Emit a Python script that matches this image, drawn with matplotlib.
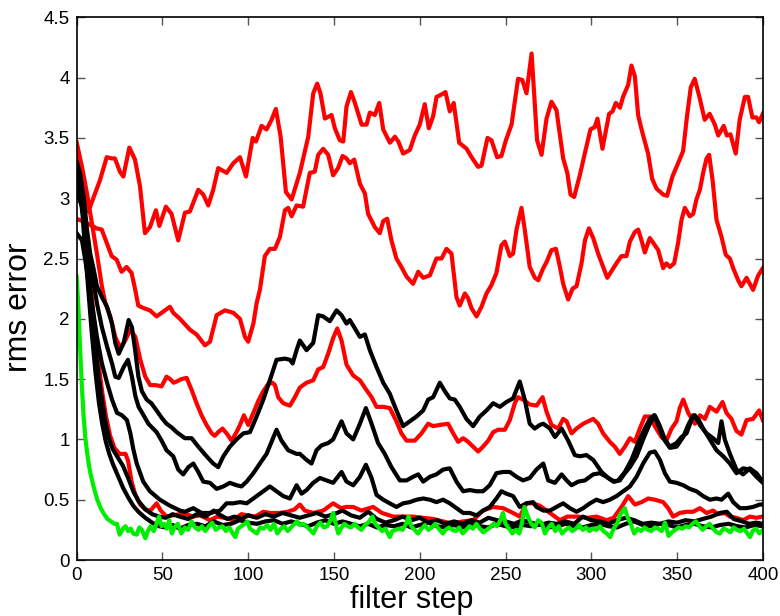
import matplotlib
matplotlib.use("Agg")
import matplotlib.pyplot as plt
import numpy as np

# ---- data (filter step, rms error) ----

red_top = [(0, 3.45), (6.8, 2.89), (13.6, 3.15), (17.5, 3.34), (20.4, 3.33), (22.3, 3.33), (25.2, 3.22),
           (27.2, 3.18), (30.7, 3.42), (34, 3.32), (36.9, 3.10), (39.8, 2.71), (42.7, 2.76), (46.2, 2.90),
           (48.2, 2.77), (52, 2.93), (55.3, 2.87), (59.2, 2.65), (63.1, 2.88), (66, 2.89), (70.9, 3.07),
           (73.8, 3.03), (76.7, 2.94), (79.6, 3.07), (82.5, 3.25), (87.4, 3.21), (91.3, 3.29), (95.2, 3.34),
           (98.7, 3.18), (102.6, 3.50), (104.5, 3.47), (107.8, 3.60), (110.7, 3.57), (113.6, 3.65),
           (116.1, 3.74), (118.9, 3.51), (122, 3.05), (125.3, 2.99), (130.1, 3.21), (135, 3.51),
           (137.9, 3.87), (140.2, 3.95), (142.1, 3.87), (144.7, 3.66), (148.6, 3.69), (150.5, 3.58),
           (153.4, 3.48), (155.4, 3.47), (157.3, 3.76), (159.9, 3.88), (162.2, 3.79), (166.1, 3.61),
           (169, 3.61), (170.9, 3.71), (173.8, 3.69), (176.4, 3.79), (178.7, 3.57), (182.6, 3.46),
           (185.5, 3.51), (187.5, 3.47), (190.3, 3.37), (194.2, 3.40), (197.1, 3.52), (200, 3.61),
           (202.9, 3.78), (205.3, 3.58), (207.8, 3.68), (209.8, 3.84), (212.7, 3.86), (215, 3.88),
           (217.5, 3.72), (219.8, 3.79), (223, 3.46), (227.3, 3.41), (230.2, 3.34), (234, 3.26),
           (236, 3.27), (239.5, 3.50), (241.8, 3.48), (245.1, 3.34), (247.6, 3.35), (250.2, 3.48),
           (253.5, 3.61), (257.3, 3.99), (259.8, 3.98), (262.2, 3.87), (265.2, 4.20), (268.4, 3.48),
           (271, 3.36), (273.9, 3.66), (276.8, 3.80), (279.7, 3.73), (283.6, 3.33), (286, 3.21),
           (287.9, 3.03), (290, 3.01), (293.3, 3.19), (296.2, 3.37), (299.5, 3.57), (302, 3.59),
           (303.6, 3.66), (306.5, 3.41), (310.4, 3.70), (312.4, 3.72), (314.3, 3.79), (316.7, 3.75),
           (318.5, 3.84), (321.5, 3.94), (323.4, 4.10), (325.4, 4.01), (327.3, 3.69), (329.3, 3.57),
           (333.1, 3.37), (335.5, 3.16), (338, 3.08), (341.9, 3.03), (344.2, 3.02), (347.3, 3.18),
           (350.6, 3.29), (353.5, 3.39), (355.8, 3.68), (358, 3.92), (360.3, 3.99), (363.2, 3.83),
           (366.1, 3.65), (369, 3.70), (372, 3.61), (374, 3.52), (377.2, 3.60), (379, 3.52),
           (381.1, 3.53), (384.2, 3.37), (386.5, 3.65), (389.5, 3.84), (391.4, 3.84), (393.9, 3.67),
           (396.2, 3.67), (397.8, 3.63), (400, 3.70)]

red_second = [(0, 2.83), (7.8, 2.78), (11.6, 2.75), (14.6, 2.74), (17.5, 2.63), (20.4, 2.52), (23.3, 2.49),
              (26.2, 2.39), (29.1, 2.43), (32, 2.38), (34, 2.25), (35.9, 2.11), (38.8, 2.09), (42.7, 2.07),
              (46.6, 2.02), (51.5, 2.07), (54.4, 2.10), (56.3, 2.05), (60.2, 2.0), (66, 1.91), (69.9, 1.87),
              (74.8, 1.78), (77.7, 1.81), (81.6, 2.03), (86.4, 2.07), (91.3, 2.05), (95.2, 2.0), (98.1, 1.85),
              (100, 1.81), (103, 1.96), (104.9, 2.13), (106.8, 2.24), (109.7, 2.52), (112.6, 2.58),
              (115.6, 2.58), (118.5, 2.68), (121.4, 2.90), (123.3, 2.92), (125.3, 2.85), (128.2, 2.94),
              (132, 2.93), (135.9, 3.21), (138.8, 3.22), (140.8, 3.36), (143.7, 3.41), (146.6, 3.36),
              (149.5, 3.19), (152.4, 3.25), (155, 3.35), (157.3, 3.33), (159.2, 3.29), (161.8, 3.32),
              (165.1, 3.12), (168, 3.04), (169.9, 2.87), (173.8, 2.76), (176.7, 2.71), (178.7, 2.81),
              (181, 2.83), (183.5, 2.65), (186.4, 2.50), (189.3, 2.43), (192.3, 2.35), (196.1, 2.29),
              (199.1, 2.39), (202, 2.34), (205.9, 2.36), (209.7, 2.50), (212.7, 2.50), (215.6, 2.58),
              (218.5, 2.54), (221.4, 2.18), (223.3, 2.11), (226.3, 2.21), (228.2, 2.17), (230.1, 2.09),
              (233.1, 2.02), (236, 2.10), (238.9, 2.21), (241.8, 2.28), (244.7, 2.38), (247.6, 2.61),
              (249.6, 2.64), (252.5, 2.52), (254.4, 2.54), (256.4, 2.74), (259.3, 2.92), (261.2, 2.74),
              (264.1, 2.43), (267.1, 2.34), (269.1, 2.32), (272, 2.42), (273.9, 2.47), (276.8, 2.57),
              (279.4, 2.58), (281.7, 2.43), (283.6, 2.29), (286.5, 2.16), (289.1, 2.25), (291.4, 2.27),
              (294.3, 2.46), (296.3, 2.65), (298.6, 2.75), (301.1, 2.67), (304, 2.54), (306.9, 2.43),
              (309.3, 2.34), (312.4, 2.41), (315.1, 2.47), (317.6, 2.52), (320.5, 2.52), (322.5, 2.64),
              (325.4, 2.72), (327.3, 2.74), (329.3, 2.65), (331.2, 2.55), (334.1, 2.67), (336.1, 2.63),
              (339, 2.57), (341.9, 2.42), (343.8, 2.46), (345.8, 2.43), (348.3, 2.46), (350.6, 2.63),
              (352.6, 2.82), (354.5, 2.92), (357.4, 2.85), (359.4, 2.87), (361.3, 2.99), (363.3, 3.07),
              (365.2, 3.21), (367.2, 3.33), (368.7, 3.36), (370.7, 3.15), (373, 2.82), (375.9, 2.68),
              (378.4, 2.53), (380.8, 2.50), (382.7, 2.42), (385.6, 2.32), (387.5, 2.27), (390.5, 2.34),
              (392.4, 2.29), (394.3, 2.24), (397.3, 2.36), (400, 2.42)]

red_third = [(0, 3.46), (3.1, 3.26), (6, 3.04), (8.9, 2.79), (11.8, 2.54), (14.7, 2.27), (16.7, 2.13),
             (19.6, 2.02), (22.5, 1.85), (25.4, 1.76), (28.3, 1.82), (31.3, 1.91), (34.2, 1.85),
             (37.1, 1.66), (40, 1.52), (42.9, 1.45), (46, 1.45), (49.5, 1.44), (52.4, 1.52), (54.5, 1.50),
             (56.5, 1.47), (58.3, 1.48), (61, 1.50), (64.1, 1.51), (67, 1.41), (69.9, 1.30), (72.8, 1.20),
             (75.7, 1.12), (78.7, 1.05), (80.5, 1.03), (82.5, 1.06), (85, 1.09), (87.4, 1.05), (90.3, 0.99),
             (93.2, 1.06), (95.2, 1.12), (97.5, 1.20), (100, 1.12), (103, 1.22), (105.9, 1.32),
             (108.8, 1.40), (111.7, 1.46), (114.2, 1.47), (115.6, 1.45), (117.5, 1.35), (120.4, 1.30),
             (124.3, 1.28), (127.2, 1.35), (130.1, 1.43), (134, 1.47), (137.9, 1.49), (140.8, 1.58),
             (143.7, 1.60), (146.6, 1.71), (149.5, 1.84), (151.9, 1.92), (154.4, 1.82), (157.3, 1.62),
             (161.2, 1.53), (165.1, 1.49), (168.9, 1.41), (171.9, 1.35), (174.8, 1.27), (178.7, 1.27),
             (182.5, 1.26), (186.4, 1.15), (189.3, 1.05), (192.3, 0.99), (197.1, 0.99), (201, 1.05),
             (204.9, 1.13), (207.8, 1.11), (211.7, 1.12), (216.5, 1.13), (219.5, 1.05), (222.4, 0.98),
             (225.3, 1.01), (228.2, 0.98), (231.1, 0.94), (234, 0.90), (236.9, 0.94), (239.9, 0.99),
             (242.8, 1.06), (245.7, 1.08), (249.6, 1.08), (252.5, 1.16), (255.4, 1.30), (257.3, 1.35),
             (260.2, 1.33), (264.1, 1.29), (268.1, 1.28), (271.6, 1.35), (273.9, 1.23), (276.8, 1.12),
             (280.7, 1.09), (283.6, 1.17), (285.6, 1.15), (288.5, 1.05), (291.4, 1.09), (295.3, 1.13),
             (301.1, 1.17), (304, 1.13), (306.9, 1.05), (310.8, 0.98), (313.7, 0.94), (316.6, 0.88),
             (319.6, 0.94), (322.5, 1.01), (325.4, 0.98), (328.3, 1.09), (331.2, 1.19), (334.1, 1.19),
             (337, 1.11), (340.9, 1.02), (343.8, 0.99), (346.8, 1.09), (349.7, 1.15), (351.6, 1.26),
             (353.6, 1.33), (356.5, 1.22), (360.4, 1.13), (363.3, 1.20), (366.2, 1.17), (369.1, 1.27),
             (373, 1.23), (376.5, 1.31), (378.8, 1.22), (381.7, 1.17), (384.6, 1.07), (387.5, 1.04),
             (390.5, 1.16), (394.3, 1.17), (397.8, 1.24), (400, 1.16)]

red_low = [(0, 3.13), (2, 3.15), (3.5, 3.05), (5, 2.8), (7, 2.5), (9, 2.15), (11, 1.85), (13, 1.6), (15, 1.38),
           (17, 1.2), (19.5, 1.03), (22, 0.93), (25, 0.88), (28.5, 0.88), (30, 0.82), (32, 0.65), (34, 0.55),
           (37, 0.46), (40, 0.42), (43, 0.41), (46.6, 0.47), (49, 0.41), (52.4, 0.36), (56, 0.37), (60, 0.38),
           (64, 0.38), (68, 0.36), (72, 0.37), (77.7, 0.33), (82, 0.36), (86, 0.35), (91.3, 0.33), (96, 0.38),
           (100, 0.37), (104, 0.36), (108.8, 0.40), (113, 0.39), (118, 0.39), (123, 0.40), (127, 0.42),
           (130.1, 0.46), (133, 0.41), (138, 0.39), (143.7, 0.41), (149.5, 0.47), (154, 0.43), (157, 0.44),
           (161.2, 0.44), (166, 0.41), (172.8, 0.44), (178, 0.39), (184.5, 0.36), (190, 0.36), (196, 0.36),
           (202, 0.35), (208, 0.34), (213.6, 0.32), (219.5, 0.30), (225, 0.32), (231.1, 0.33), (236.9, 0.41),
           (242.8, 0.44), (248.6, 0.43), (254.4, 0.39), (258.3, 0.36), (262.2, 0.47), (266.1, 0.47),
           (270, 0.45), (275.9, 0.39), (281.7, 0.33), (286, 0.36), (292, 0.36), (298, 0.35), (303, 0.36),
           (308.9, 0.33), (313, 0.35), (317.6, 0.44), (321.5, 0.53), (325.4, 0.46), (329.3, 0.48),
           (333.2, 0.51), (337, 0.50), (341.9, 0.48), (344.8, 0.43), (347.7, 0.36), (351.6, 0.39),
           (355.5, 0.40), (359.4, 0.40), (363.3, 0.43), (367.2, 0.39), (371, 0.41), (374, 0.38),
           (377.8, 0.39), (380.8, 0.36), (384.6, 0.35), (388.5, 0.33), (392.4, 0.36), (396.3, 0.35),
           (400, 0.36)]

black_a = [(0, 3.30), (2, 3.2), (4.1, 3.01), (6, 2.74), (7.9, 2.54), (9.9, 2.41), (11.8, 2.27), (14.7, 2.18),
           (17.7, 2.10), (20.6, 1.96), (22.5, 1.80), (24.5, 1.71), (27.4, 1.80), (30.3, 1.99), (32.2, 1.93),
           (34, 1.75), (36, 1.52), (38, 1.40), (40.8, 1.33), (43.5, 1.30), (46.6, 1.24), (49.5, 1.18),
           (52.4, 1.13), (55.3, 1.10), (58.3, 1.06), (63.1, 1.01), (67, 1.01), (70.9, 0.94), (75.7, 0.86),
           (79.6, 0.80), (82.5, 0.77), (85.5, 0.86), (89.3, 0.94), (93.2, 1.00), (97.1, 1.05), (101, 1.06),
           (104.9, 1.19), (108.8, 1.33), (112.6, 1.49), (116.5, 1.66), (121.4, 1.67), (124.3, 1.66),
           (125.9, 1.63), (128.2, 1.74), (130.1, 1.82), (134, 1.74), (137.9, 1.80), (140.8, 2.03),
           (143.7, 2.02), (147.6, 1.98), (151.5, 2.07), (154.4, 2.03), (157.3, 1.96), (159.2, 1.99),
           (162.2, 1.92), (165.1, 1.85), (168, 1.87), (170.9, 1.74), (174.8, 1.60), (178.7, 1.47),
           (182.5, 1.38), (186.4, 1.24), (190.3, 1.11), (194.2, 1.15), (198.1, 1.19), (202, 1.24),
           (204.9, 1.33), (207.8, 1.35), (211.7, 1.47), (214.6, 1.40), (217.5, 1.34), (220.4, 1.33),
           (223.3, 1.27), (227.2, 1.17), (231.1, 1.11), (235, 1.19), (238.9, 1.24), (242.8, 1.30),
           (246.7, 1.27), (250.5, 1.31), (254.4, 1.34), (258.3, 1.48), (261.2, 1.33), (264.1, 1.13),
           (267, 1.09), (270, 1.12), (272, 1.13), (275.9, 1.09), (278.8, 1.02), (282.7, 1.09),
           (286.5, 0.99), (290.4, 0.87), (293.3, 0.86), (297.2, 0.87), (301.1, 0.83), (306, 0.73),
           (309.8, 0.68), (313.7, 0.65), (316.6, 0.66), (319.6, 0.72), (322.5, 0.77), (326.4, 0.86),
           (330.2, 1.00), (334.1, 1.13), (337, 1.20), (340, 1.11), (342.9, 1.00), (345.8, 0.94),
           (349.7, 0.97), (352.6, 1.02), (355.5, 1.05), (358.4, 1.16), (360.4, 1.20), (363.3, 1.12),
           (367.2, 1.05), (371, 1.01), (374, 0.97), (375.9, 1.15), (377.8, 1.00), (380.8, 0.88),
           (384.6, 0.75), (388.5, 0.71), (392.4, 0.76), (396.3, 0.72), (400, 0.65)]

black_b = [(0, 3.05), (3.1, 2.93), (6, 2.65), (8.9, 2.38), (11.8, 2.13), (14.7, 1.93), (17.7, 1.77),
           (20.6, 1.63), (22.5, 1.52), (24.5, 1.51), (27.4, 1.60), (29.9, 1.66), (32.2, 1.52), (34.2, 1.36),
           (36.1, 1.27), (39, 1.20), (41.8, 1.13), (46.6, 1.06), (49.5, 0.99), (52.4, 0.91), (56.3, 0.86),
           (59.2, 0.75), (62.1, 0.71), (65.1, 0.77), (68, 0.80), (70.9, 0.73), (73.8, 0.65), (77.7, 0.64),
           (81.6, 0.59), (85.5, 0.61), (89.3, 0.64), (93.2, 0.62), (96.1, 0.61), (99.1, 0.65), (103, 0.72),
           (106.8, 0.80), (110.7, 0.88), (113.6, 0.98), (116.5, 1.08), (119.4, 0.99), (123.3, 0.91),
           (128.2, 0.88), (130.1, 0.88), (134, 0.83), (136.9, 0.80), (139.8, 0.91), (142.7, 0.95),
           (146.6, 0.97), (149.5, 1.00), (152.4, 1.09), (154.4, 1.15), (157.3, 1.05), (161.2, 1.00),
           (165.1, 1.13), (168.6, 1.26), (171.9, 1.13), (175.7, 0.97), (179.6, 0.88), (183.5, 0.77),
           (188.4, 0.66), (192.3, 0.66), (196.1, 0.69), (199.1, 0.71), (202, 0.65), (205.9, 0.69),
           (209.7, 0.71), (213.6, 0.75), (217.5, 0.76), (221.4, 0.65), (225.3, 0.57), (229.2, 0.58),
           (233.1, 0.57), (236.9, 0.57), (240.8, 0.62), (244.7, 0.72), (248.6, 0.73), (252.5, 0.73),
           (256.4, 0.69), (260.2, 0.66), (264.1, 0.68), (268, 0.75), (272, 0.80), (274.9, 0.66),
           (278.8, 0.64), (282.7, 0.71), (285.6, 0.66), (288.5, 0.62), (292.4, 0.65), (296.3, 0.66),
           (301.1, 0.71), (305, 0.72), (308.9, 0.69), (312.8, 0.65), (315.7, 0.66), (319.6, 0.73),
           (323.4, 0.83), (327.3, 0.97), (331.2, 1.09), (334.1, 1.17), (336.5, 1.20), (339, 1.12),
           (341.9, 1.01), (345.8, 0.93), (349.7, 0.94), (353.6, 1.02), (356.5, 1.12), (359.4, 1.20),
           (362.3, 1.17), (365.2, 1.09), (369.1, 1.00), (373, 0.91), (376.9, 0.86), (380.8, 0.80),
           (384.6, 0.72), (388.5, 0.76), (392.4, 0.75), (396.3, 0.69), (400, 0.64)]

black_c = [(0, 2.71), (3.1, 2.65), (6, 2.40), (8.9, 2.13), (11.8, 1.85), (14.7, 1.63), (17.7, 1.47),
           (20.6, 1.33), (23.5, 1.22), (26.4, 1.20), (29.3, 1.16), (31.3, 1.05), (33, 0.92), (35, 0.80),
           (38.8, 0.65), (42.7, 0.57), (48.5, 0.50), (54.4, 0.45), (60.2, 0.41), (63.1, 0.40), (68, 0.43),
           (72.8, 0.39), (77.7, 0.39), (83.5, 0.41), (87.4, 0.47), (91.3, 0.47), (95.2, 0.48), (99.1, 0.47),
           (104.9, 0.53), (108.8, 0.57), (112.6, 0.61), (116.5, 0.57), (120.4, 0.53), (124.3, 0.51),
           (128.2, 0.62), (131.1, 0.55), (134, 0.58), (137.9, 0.64), (141.8, 0.68), (145.6, 0.66),
           (149.5, 0.64), (154.4, 0.73), (157.3, 0.65), (161.2, 0.62), (165.1, 0.69), (168.6, 0.79),
           (171.9, 0.68), (174.8, 0.54), (178.7, 0.50), (182.5, 0.47), (186.4, 0.44), (190.3, 0.47),
           (194.2, 0.48), (198.1, 0.50), (202, 0.51), (205.9, 0.50), (209.7, 0.48), (213.6, 0.50),
           (217.5, 0.47), (221.4, 0.43), (225.3, 0.39), (229.2, 0.39), (233.1, 0.37), (236.9, 0.41),
           (240.8, 0.44), (244.7, 0.51), (247.6, 0.57), (250.5, 0.55), (254.4, 0.53), (258.3, 0.44),
           (262.2, 0.47), (266.1, 0.48), (268, 0.44), (272, 0.41), (275.9, 0.41), (279.7, 0.44),
           (283.6, 0.47), (287.5, 0.43), (291.4, 0.40), (295.3, 0.43), (299.2, 0.47), (303, 0.50),
           (306.9, 0.48), (310.8, 0.50), (314.7, 0.53), (318.6, 0.57), (322.5, 0.61), (326.4, 0.69),
           (330.2, 0.80), (334.1, 0.89), (337, 0.90), (340, 0.83), (342.9, 0.72), (345.8, 0.65),
           (349.7, 0.64), (353.6, 0.62), (357.4, 0.59), (361.3, 0.57), (365.2, 0.53), (369.1, 0.50),
           (373, 0.51), (375.9, 0.50), (379.8, 0.55), (382.7, 0.48), (386.6, 0.43), (390.5, 0.43),
           (394.3, 0.44), (398.2, 0.46), (400, 0.46)]

black_d = [(0, 3.30), (2, 3.2), (3.5, 3.0), (5, 2.75), (7, 2.4), (9, 2.05), (11, 1.75), (13, 1.5), (15, 1.3),
           (17, 1.13), (19, 1.0), (21, 0.92), (24, 0.85), (27, 0.78), (30, 0.68), (33, 0.57), (36, 0.49),
           (40, 0.42), (44, 0.38), (48, 0.36), (52, 0.35), (56, 0.38), (60, 0.36), (65, 0.34), (70, 0.38),
           (75, 0.36), (80, 0.41), (84, 0.37), (88, 0.34), (92, 0.36), (96, 0.34), (100, 0.37), (105, 0.35),
           (110, 0.38), (115, 0.36), (120, 0.39), (125, 0.37), (130, 0.35), (135, 0.37), (140, 0.39),
           (145, 0.36), (150, 0.38), (155, 0.41), (160, 0.37), (165, 0.35), (170, 0.40), (175, 0.34),
           (180, 0.31), (185, 0.33), (190, 0.36), (195, 0.33), (200, 0.35), (205, 0.31), (210, 0.33),
           (215, 0.30), (220, 0.32), (225, 0.30), (230, 0.33), (235, 0.31), (240, 0.35), (245, 0.33),
           (250, 0.32), (255, 0.30), (260, 0.33), (265, 0.31), (270, 0.29), (275, 0.31), (280, 0.30),
           (285, 0.32), (290, 0.30), (295, 0.36), (300, 0.33), (305, 0.32), (310, 0.30), (315, 0.33),
           (320, 0.35), (325, 0.33), (330, 0.30), (335, 0.31), (340, 0.30), (345, 0.32), (350, 0.31),
           (355, 0.33), (360, 0.32), (365, 0.34), (370, 0.36), (375, 0.39), (379, 0.40), (383, 0.34),
           (388, 0.32), (392, 0.30), (396, 0.31), (400, 0.30)]

black_e = [(0, 3.20), (2, 3.05), (3.5, 2.85), (5, 2.55), (7, 2.2), (9, 1.85), (11, 1.55), (13, 1.3),
           (15, 1.12), (17, 0.98), (19, 0.88), (21, 0.80), (24, 0.70), (27, 0.60), (30, 0.52), (33, 0.45),
           (36, 0.40), (40, 0.35), (44, 0.31), (48, 0.28), (52, 0.27), (56, 0.29), (60, 0.26), (65, 0.29),
           (70, 0.30), (75, 0.28), (80, 0.32), (85, 0.29), (90, 0.30), (95, 0.33), (100, 0.31), (105, 0.30),
           (110, 0.32), (115, 0.33), (120, 0.30), (125, 0.32), (130, 0.30), (135, 0.28), (140, 0.31),
           (145, 0.33), (150, 0.30), (155, 0.32), (160, 0.30), (165, 0.28), (170, 0.30), (175, 0.27),
           (180, 0.29), (185, 0.28), (190, 0.30), (195, 0.27), (200, 0.29), (205, 0.31), (210, 0.28),
           (215, 0.27), (220, 0.29), (225, 0.27), (230, 0.30), (235, 0.28), (240, 0.27), (245, 0.30),
           (250, 0.28), (255, 0.27), (260, 0.29), (265, 0.28), (270, 0.30), (275, 0.27), (280, 0.28),
           (285, 0.30), (290, 0.28), (295, 0.27), (300, 0.29), (305, 0.30), (310, 0.28), (315, 0.27),
           (320, 0.30), (325, 0.32), (330, 0.29), (335, 0.28), (340, 0.30), (345, 0.29), (350, 0.27),
           (355, 0.29), (360, 0.30), (365, 0.28), (370, 0.27), (375, 0.29), (380, 0.30), (385, 0.28),
           (390, 0.27), (395, 0.29), (400, 0.28)]

green = [(0, 2.35), (1, 2.1), (2, 1.75), (3, 1.45), (4, 1.2), (5, 1.02), (6, 0.9), (7, 0.8), (8, 0.72),
         (9, 0.66), (10, 0.6), (12, 0.5), (14, 0.43), (16, 0.38), (18, 0.34), (20, 0.32), (22, 0.30),
         (23.5, 0.30), (25, 0.21), (27, 0.26), (28.5, 0.28), (30, 0.24), (31.5, 0.26), (33, 0.22), (35, 0.21),
         (36.5, 0.27), (38, 0.25), (40, 0.18), (41.5, 0.24), (43, 0.28), (45, 0.24), (46.5, 0.30), (48, 0.36),
         (49.5, 0.28), (51, 0.30), (52.5, 0.26), (54, 0.33), (55.5, 0.22), (57, 0.27), (59, 0.30), (61, 0.22),
         (63, 0.27), (65, 0.25), (67, 0.32), (69, 0.27), (71, 0.25), (73, 0.28), (75, 0.24), (77, 0.28),
         (79, 0.31), (81, 0.25), (83, 0.27), (85, 0.28), (87, 0.24), (89, 0.27), (91, 0.22), (92.5, 0.19),
         (94, 0.26), (96, 0.28), (98, 0.30), (99.5, 0.32), (101, 0.26), (103, 0.24), (105, 0.22), (107, 0.27),
         (109, 0.26), (111, 0.29), (113, 0.25), (115, 0.30), (117, 0.22), (119, 0.26), (121, 0.28),
         (123, 0.24), (125, 0.27), (127, 0.30), (128.5, 0.32), (130, 0.29), (132, 0.30), (134, 0.28),
         (136, 0.25), (138, 0.22), (140, 0.28), (142, 0.31), (144, 0.27), (146, 0.28), (148, 0.33),
         (149.5, 0.39), (151, 0.30), (152.5, 0.22), (154, 0.26), (156, 0.30), (158, 0.28), (160, 0.27),
         (162, 0.30), (164, 0.27), (166, 0.25), (168, 0.29), (170, 0.31), (172.5, 0.36), (174, 0.30),
         (176, 0.27), (178, 0.24), (180, 0.26), (182.5, 0.19), (184, 0.24), (186, 0.25), (188, 0.26),
         (190, 0.25), (192, 0.30), (193.5, 0.36), (195, 0.28), (197, 0.25), (199, 0.22), (201, 0.26),
         (203, 0.29), (205, 0.25), (207, 0.27), (209, 0.30), (211, 0.26), (213.5, 0.22), (215, 0.25),
         (217, 0.27), (219, 0.25), (221, 0.24), (223, 0.27), (225, 0.22), (227, 0.25), (229, 0.28),
         (231, 0.26), (233, 0.30), (235, 0.26), (237, 0.23), (239, 0.25), (241, 0.27), (243, 0.30),
         (245, 0.28), (247, 0.33), (248.5, 0.39), (250, 0.30), (252, 0.26), (254, 0.22), (256, 0.25),
         (258, 0.22), (259.5, 0.30), (261, 0.44), (263, 0.36), (265, 0.30), (267, 0.27), (269, 0.33),
         (271, 0.31), (273, 0.22), (275, 0.27), (277, 0.30), (279, 0.24), (281, 0.28), (283, 0.22),
         (285, 0.25), (287, 0.27), (289, 0.24), (291, 0.26), (293, 0.29), (295, 0.25), (297, 0.27),
         (299, 0.24), (301, 0.26), (303, 0.25), (305, 0.28), (307, 0.24), (309, 0.22), (311, 0.19),
         (313, 0.26), (315, 0.30), (317, 0.38), (319.5, 0.43), (321, 0.36), (323, 0.30), (325, 0.22),
         (327, 0.26), (329, 0.24), (331, 0.27), (333, 0.25), (335, 0.24), (337, 0.27), (339, 0.26),
         (341, 0.24), (343, 0.31), (345, 0.20), (347, 0.23), (349, 0.25), (351, 0.27), (353, 0.26),
         (355, 0.28), (357, 0.27), (359, 0.30), (361, 0.32), (363, 0.28), (365, 0.25), (367, 0.28),
         (369, 0.30), (371, 0.26), (373, 0.23), (375, 0.22), (377, 0.26), (379, 0.25), (381, 0.23),
         (383, 0.27), (385, 0.25), (387, 0.24), (389, 0.26), (391, 0.22), (392.5, 0.19), (394, 0.24),
         (396, 0.26), (398, 0.22), (400, 0.25)]

xticks = [0, 50, 100, 150, 200, 250, 300, 350, 400]
yticks = [0, 0.5, 1, 1.5, 2, 2.5, 3, 3.5, 4, 4.5]
ytick_labels = ['0', '0.5', '1', '1.5', '2', '2.5', '3', '3.5', '4', '4.5']

plt.rcParams['font.family'] = ['Liberation Sans', 'DejaVu Sans']

fig = plt.figure(figsize=(7.8, 6.16), dpi=100)
ax = fig.add_axes([0.0983, 0.0909, 0.8797, 0.881])

lw = 3.0
for line in [red_top, red_second, red_third, red_low]:
    xs, ys = np.array(line).T
    ax.plot(xs, ys, color='#ff0000', lw=lw, solid_joinstyle='round')
for line in [black_a, black_b, black_c, black_d, black_e]:
    xs, ys = np.array(line).T
    ax.plot(xs, ys, color='black', lw=lw, solid_joinstyle='round')
xs, ys = np.array(green).T
ax.plot(xs, ys, color='#00ee00', lw=lw, solid_joinstyle='round')

ax.set_xlim(0, 400)
ax.set_ylim(0, 4.5)
ax.set_xticks(xticks)
ax.set_yticks(yticks)
ax.set_yticklabels(ytick_labels)
ax.tick_params(direction='in', length=6, width=1, top=True, right=True,
               labelsize=13.5, pad=5, color='#555555')
for s in ax.spines.values():
    s.set_linewidth(1.2)

ax.set_xlabel('filter step', fontsize=22)
ax.set_ylabel('rms error', fontsize=23)
# labels sit a little left / low of centre in the original; keep them inside the figure
ax.xaxis.set_label_coords(0.488, -0.101, transform=ax.transAxes)
ax.xaxis.label.set_va('bottom')
ax.yaxis.set_label_coords(-0.062, 0.465, transform=ax.transAxes)

fig.savefig('out.png', dpi=100)
